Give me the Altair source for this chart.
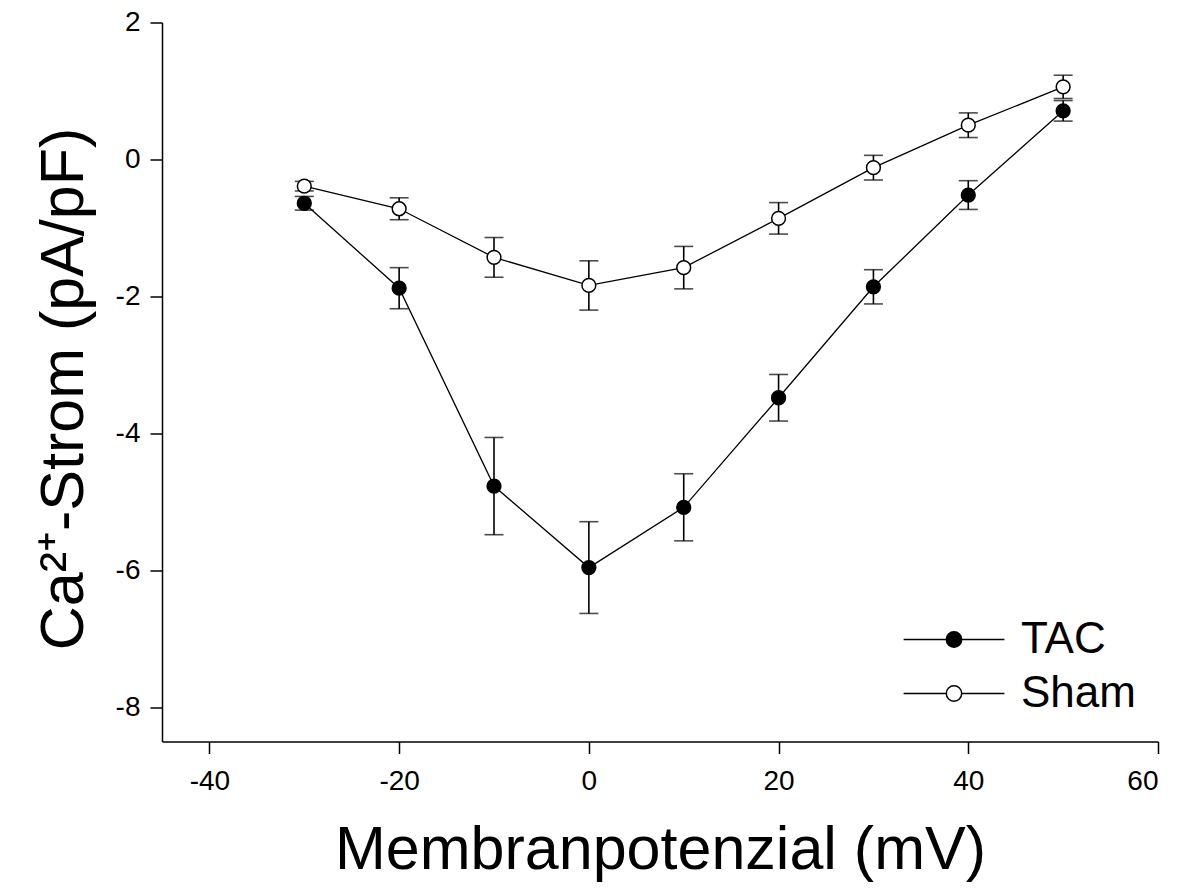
import altair as alt
import pandas as pd

# ---- data ----
voltage = [-30, -20, -10, 0, 10, 20, 30, 40, 50]
tac_mean = [-0.64, -1.88, -4.77, -5.96, -5.08, -3.48, -1.86, -0.52, 0.71]
tac_sem = [0.10, 0.30, 0.71, 0.67, 0.49, 0.34, 0.25, 0.21, 0.15]
sham_mean = [-0.39, -0.72, -1.43, -1.84, -1.58, -0.86, -0.12, 0.50, 1.06]
sham_sem = [0.07, 0.16, 0.29, 0.36, 0.31, 0.23, 0.18, 0.18, 0.17]
groups = ["TAC", "Sham"]
x_ticks = [-40, -20, 0, 20, 40, 60]
y_ticks = [-8, -6, -4, -2, 0, 2]

rows = []
for g, means, sems in [("TAC", tac_mean, tac_sem), ("Sham", sham_mean, sham_sem)]:
    for v, m, s in zip(voltage, means, sems):
        rows.append({"V": v, "I": m, "lo": m - s, "hi": m + s, "group": g})
df = pd.DataFrame(rows)

FONT = "Liberation Sans"

x_enc = alt.X("V:Q", scale=alt.Scale(domain=[-45, 60], nice=False, zero=False),
              axis=alt.Axis(values=x_ticks, labelExpr="'' + datum.value",
                            title="Membranpotenzial (mV)",
                            titleY=127, titleBaseline="alphabetic",
                            labelPadding=14))
y_scale = alt.Scale(domain=[-8.5, 2], nice=False, zero=False)
y_axis = alt.Axis(values=y_ticks, labelExpr="'' + datum.value",
                  title="Ca²⁺-Strom (pA/pF)",
                  titleX=-80, titleY=366, titleAngle=270,
                  titleAlign="center", titleBaseline="alphabetic",
                  labelPadding=10)

base = alt.Chart(df)

lines = base.mark_line(color="black", strokeWidth=1.3).encode(
    x=x_enc,
    y=alt.Y("I:Q", scale=y_scale, axis=y_axis),
    detail="group:N",
)

bars = base.mark_rule(color="black", strokeWidth=1.6).encode(
    x="V:Q", y="lo:Q", y2="hi:Q"
)
caps_lo = base.mark_tick(color="black", orient="horizontal", size=19, thickness=1.6).encode(
    x="V:Q", y="lo:Q"
)
caps_hi = base.mark_tick(color="black", orient="horizontal", size=19, thickness=1.6).encode(
    x="V:Q", y="hi:Q"
)

legend_symbol = "M-7.2,0L-1.1,0M1.1,0L7.2,0M-1.1,0A1.1,1.1,0,1,1,1.1,0A1.1,1.1,0,1,1,-1.1,0Z"

points = base.mark_point(filled=True, stroke="black", strokeWidth=1.5, size=190, opacity=1,
                         shape="circle").encode(
    x="V:Q",
    y="I:Q",
    fill=alt.Fill("group:N",
                  scale=alt.Scale(domain=groups, range=["black", "white"]),
                  legend=alt.Legend(orient="none", legendX=770, legendY=595,
                                    title=None, padding=0,
                                    symbolType=legend_symbol, symbolSize=196,
                                    symbolStrokeColor="black", symbolStrokeWidth=1.5,
                                    labelFont=FONT, labelFontSize=44, labelColor="black",
                                    labelOffset=45, rowPadding=10)),
    order=alt.Order("group:N", sort="ascending"),
)

chart = alt.layer(lines, bars, caps_lo, caps_hi, points).properties(
    width=996, height=719,
    autosize=alt.AutoSizeParams(type="none"),
    padding={"left": 154, "top": 14.5, "right": 15, "bottom": 140},
).configure(background="white").configure_view(stroke=None).configure_axis(
    grid=False,
    domainColor="black", domainWidth=1.5,
    tickColor="black", tickWidth=1.5, tickSize=12,
    labelFont=FONT, labelFontSize=28, labelColor="black",
    titleFont=FONT, titleFontSize=61, titleFontWeight="normal", titleColor="black",
)

chart.save("out.html", embed_options={"renderer": "svg", "actions": False})
